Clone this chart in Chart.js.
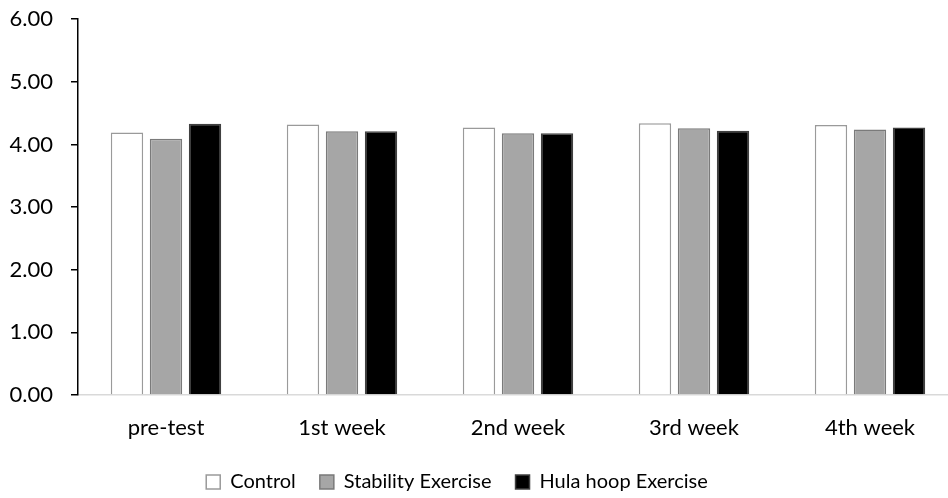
<!DOCTYPE html>
<html>
<head>
<meta charset="utf-8">
<script src="https://cdn.jsdelivr.net/npm/chart.js@4.4.1/dist/chart.umd.min.js"></script>
<style>
  html, body { margin: 0; padding: 0; background: #fff; }
  #wrap { width: 948px; height: 498px; overflow: hidden; position: relative; }
  #box { width: 960px; height: 514px; position: absolute; left: 0; top: -12px; }
</style>
</head>
<body>
<div id="wrap"><div id="box"><canvas id="c"></canvas></div></div>
<script>
// Weekly measurements per group
const categories = ['pre-test', '1st week', '2nd week', '3rd week', '4th week'];
const controlValues = [4.19, 4.32, 4.27, 4.34, 4.31];
const stabilityValues = [4.09, 4.21, 4.18, 4.26, 4.24];
const hulaHoopValues = [4.33, 4.21, 4.18, 4.22, 4.27];
const yTicks = [0, 1, 2, 3, 4, 5, 6];

const FONT = 'Lato';
const FONT_SIZE = 22;
const LEGEND_FONT_SIZE = 20;

// Nudge the legend a little to the left of the canvas centre
const legendShift = {
  id: 'legendShift',
  afterLayout(chart) {
    const lg = chart.legend;
    if (lg) { lg.left -= 22; lg.right -= 22; }
  }
};

new Chart(document.getElementById('c'), {
  type: 'bar',
  data: {
    labels: categories,
    datasets: [
      { label: 'Control', data: controlValues, backgroundColor: '#ffffff', borderColor: '#9a9a9a', borderWidth: 1.5 },
      { label: 'Stability Exercise', data: stabilityValues, backgroundColor: '#a6a6a6', borderColor: '#7a7a7a', borderWidth: 1.5 },
      { label: 'Hula hoop Exercise', data: hulaHoopValues, backgroundColor: '#000000', borderColor: '#404040', borderWidth: 1.5 }
    ]
  },
  plugins: [legendShift],
  options: {
    responsive: true,
    maintainAspectRatio: false,
    animation: false,
    categoryPercentage: 0.665,
    barPercentage: 0.83,
    layout: { padding: { top: 0, right: 2, left: 0, bottom: 0 } },
    plugins: {
      tooltip: { enabled: false },
      legend: {
        position: 'bottom',
        labels: {
          font: { family: FONT, size: LEGEND_FONT_SIZE },
          color: '#000',
          boxWidth: 14,
          boxHeight: 14,
          padding: 24
        }
      }
    },
    scales: {
      x: {
        afterFit: s => { s.height = 53; },
        grid: { display: false, drawTicks: false },
        border: { color: '#d9d9d9', width: 1.5 },
        ticks: { font: { family: FONT, size: FONT_SIZE }, color: '#000', padding: 20 }
      },
      y: {
        min: 0,
        max: 6,
        afterBuildTicks: s => { s.ticks = yTicks.map(v => ({ value: v })); },
        afterFit: s => { s.width = 78; },
        grid: { drawOnChartArea: false, tickLength: 7, color: '#000', lineWidth: 1.5 },
        border: { color: '#000', width: 1.5 },
        ticks: {
          font: { family: FONT, size: FONT_SIZE },
          color: '#000',
          padding: 18,
          callback: v => Number(v).toFixed(2)
        }
      }
    }
  }
});
</script>
</body>
</html>
